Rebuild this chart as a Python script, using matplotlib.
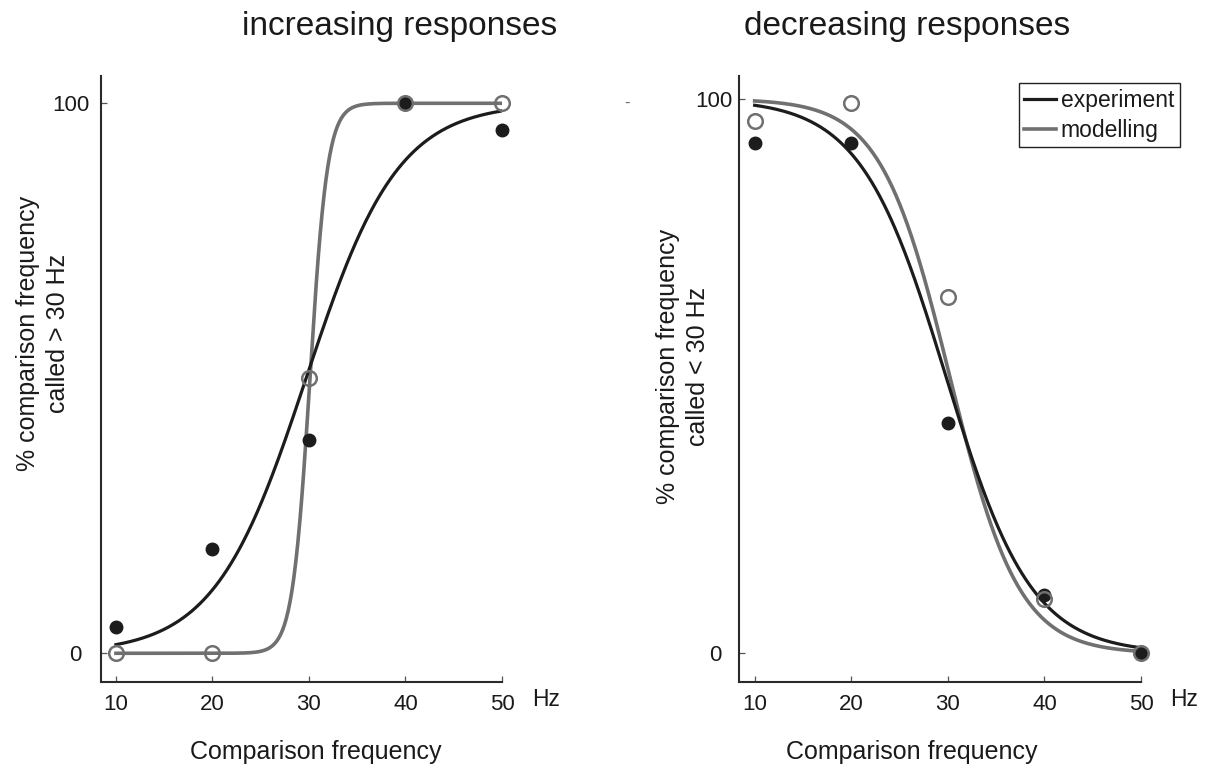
import numpy as np
import matplotlib
matplotlib.use("Agg")
import matplotlib.pyplot as plt
from matplotlib.transforms import ScaledTranslation

plt.rcParams['font.family'] = ['Liberation Sans', 'DejaVu Sans']

# ---------------- data ----------------
freqs = [10, 20, 30, 40, 50]
inc_experiment = [4.7, 19.0, 38.8, 100.0, 95.2]
inc_modelling = [0.0, 0.0, 50.0, 100.0, 100.0]
dec_experiment = [92.1, 92.1, 41.5, 10.5, 0.0]
dec_modelling = [96.1, 99.3, 64.3, 9.9, 0.0]

# fitted psychometric (logistic) curves: midpoint (Hz), slope (1/Hz)
inc_exp_fit = (29.7, 0.21)
inc_mod_fit = (30.1, 1.10)
dec_exp_fit = (29.8, -0.226)
dec_mod_fit = (30.2, -0.28)

x_ticks = [10, 20, 30, 40, 50]
y_ticks = [0, 100]
titles = ["increasing responses", "decreasing responses"]
ylabels = ["% comparison frequency\ncalled > 30 Hz",
           "% comparison frequency\ncalled < 30 Hz"]
xlabel = "Comparison frequency"
legend_labels = ["experiment", "modelling"]

BLACK = "#1c1c1c"
GRAY = "#707070"

W, H = 1211, 771
fig = plt.figure(figsize=(W / 100, H / 100), dpi=100)


def fx(x):
    return x / W


def fy(y):
    return 1 - y / H


def logistic(x, fit):
    mid, slope = fit
    return 100.0 / (1.0 + np.exp(-slope * (x - mid)))


xs = np.linspace(10, 50, 400)

panels = [
    dict(rect=[fx(101), fy(681.5), fx(502) - fx(101), fy(76) - fy(681.5)],
         xlim=(8.45, 50), ylim=(-5.13, 104.96),
         exp=inc_experiment, mod=inc_modelling,
         efit=inc_exp_fit, mfit=inc_mod_fit),
    dict(rect=[fx(739.3), fy(681.5), fx(1141) - fx(739.3), fy(76) - fy(681.5)],
         xlim=(8.41, 50), ylim=(-5.05, 104.15),
         exp=dec_experiment, mod=dec_modelling,
         efit=dec_exp_fit, mfit=dec_mod_fit),
]

axes = []
for i, p in enumerate(panels):
    ax = fig.add_axes(p['rect'])
    axes.append(ax)
    ax.set_xlim(*p['xlim'])
    ax.set_ylim(*p['ylim'])
    for s in ['top', 'right']:
        ax.spines[s].set_visible(False)
    for s in ['left', 'bottom']:
        ax.spines[s].set_linewidth(1.5)
        ax.spines[s].set_color('#2a2a2a')
    ax.set_xticks(x_ticks)
    ax.set_yticks(y_ticks)
    ax.set_yticklabels([str(v) for v in y_ticks])
    ax.tick_params(direction='in', length=4.5, width=0.9, color='#555555',
                   labelsize=16, labelcolor='#1a1a1a')
    ax.tick_params(axis='x', pad=9)
    ax.tick_params(axis='y', pad=8 if i == 0 else 5)
    # zero label sits a little further left, as in the original
    for lab in ax.get_yticklabels():
        if lab.get_text() == '0':
            lab.set_transform(lab.get_transform() +
                              ScaledTranslation(-6 / 72 if i == 0 else -8 / 72, 0, fig.dpi_scale_trans))

    l1, = ax.plot(xs, logistic(xs, p['efit']), color=BLACK, lw=2.3, zorder=3)
    l2, = ax.plot(xs, logistic(xs, p['mfit']), color=GRAY, lw=2.6, zorder=2)
    ax.plot(freqs, p['exp'], 'o', color=BLACK, ms=9, mec=BLACK, zorder=4,
            clip_on=False)
    ax.plot(freqs, p['mod'], 'o', mfc='none', mec=GRAY, ms=10.5, mew=1.8,
            zorder=5, clip_on=False)
    if i == 1:
        leg = ax.legend([l1, l2], legend_labels, loc='upper right',
                        bbox_to_anchor=(fx(1180), fy(83)), bbox_transform=fig.transFigure,
                        fontsize=16.5, frameon=True, fancybox=False,
                        handlelength=1.4, handletextpad=0.2, borderpad=0.25,
                        labelspacing=0.3, borderaxespad=0, framealpha=1)
        leg.get_frame().set_edgecolor('#222222')
        leg.get_frame().set_linewidth(1.0)
        for t in leg.get_texts():
            t.set_color('#1a1a1a')

# titles
fig.text(fx(400), fy(35), titles[0], ha='center', va='baseline', fontsize=24,
         color='#1a1a1a')
fig.text(fx(907), fy(35), titles[1], ha='center', va='baseline', fontsize=24,
         color='#1a1a1a')

# y labels
fig.text(fx(43), fy(333), ylabels[0], rotation=90, ha='center', va='center',
         fontsize=18, color='#1a1a1a', linespacing=1.3)
fig.text(fx(683), fy(366), ylabels[1], rotation=90, ha='center', va='center',
         fontsize=18, color='#1a1a1a', linespacing=1.3)

# x labels
fig.text(fx(316), fy(752), xlabel, ha='center', va='center', fontsize=18,
         color='#1a1a1a')
fig.text(fx(912), fy(752), xlabel, ha='center', va='center', fontsize=18,
         color='#1a1a1a')

# unit labels
fig.text(fx(546), fy(700), "Hz", ha='center', va='center', fontsize=16.5,
         color='#1a1a1a')
fig.text(fx(1184), fy(700), "Hz", ha='center', va='center', fontsize=16.5,
         color='#1a1a1a')

# small stray dash present in the original
fig.text(fx(627), fy(103), "-", ha='center', va='center', fontsize=12,
         color='#666666')

fig.savefig("out.png", dpi=100)
